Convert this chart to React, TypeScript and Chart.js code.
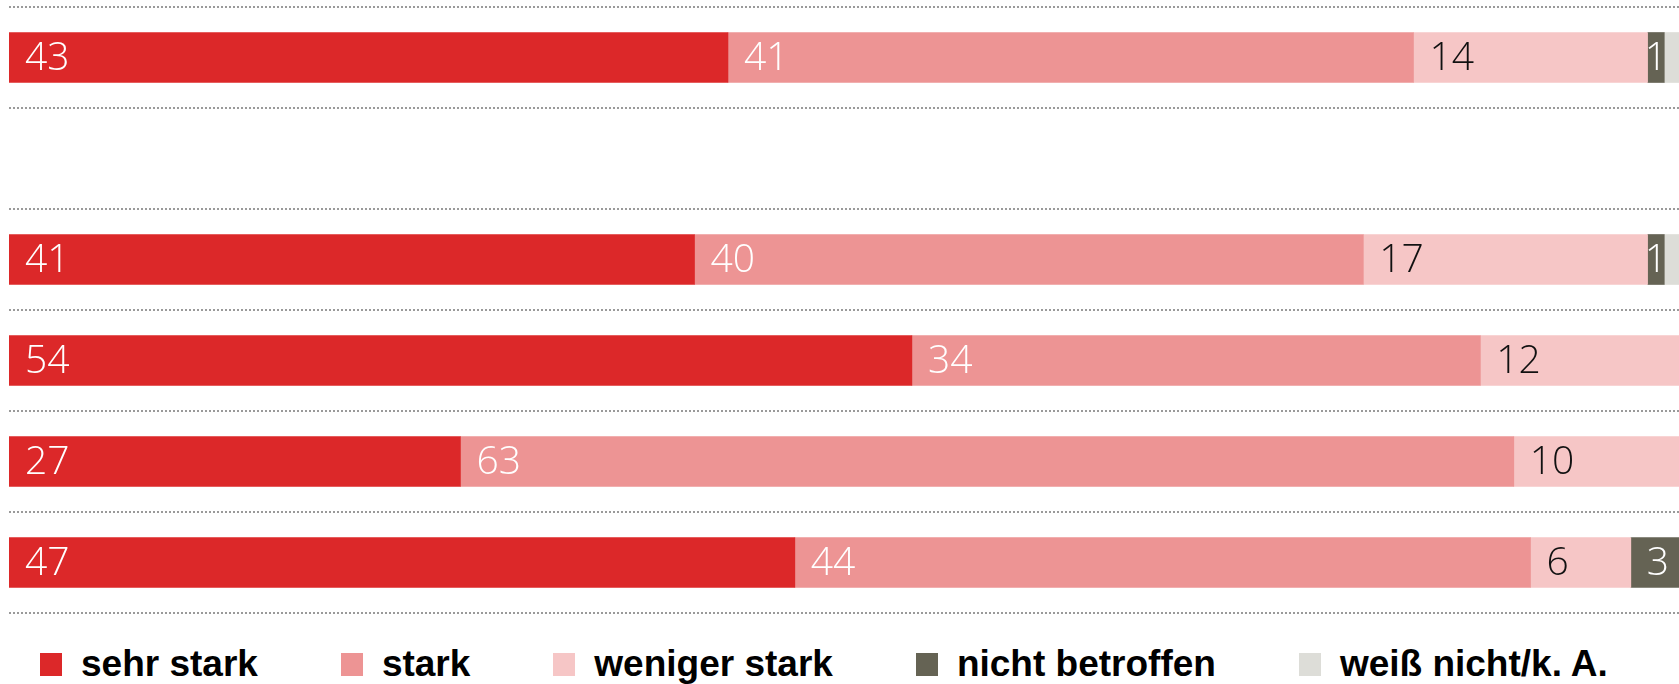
import React, { useEffect, useRef } from 'react';
import { Chart, registerables } from 'chart.js';

Chart.register(...registerables);

// ---- data ----
const categories = ['Gruppe 1', '', 'Gruppe 2', 'Gruppe 3', 'Gruppe 4', 'Gruppe 5'];
const seriesNames = ['sehr stark', 'stark', 'weniger stark', 'nicht betroffen', 'weiß nicht/k. A.'];
const sehrStark = [43, null, 41, 54, 27, 47];
const stark = [41, null, 40, 34, 63, 44];
const wenigerStark = [14, null, 17, 12, 10, 6];
const nichtBetroffen = [1, null, 1, 0, 0, 3];
const weissNicht = [1, null, 1, 0, 0, 0];

const seriesColors = ['#dc2829', '#ed9494', '#f6c6c6', '#656354', '#ddddd8'];
const labelColors: (string | null)[] = ['#ffffff', '#ffffff', '#111111', '#ffffff', null];

const segmentLabels = {
  id: 'segmentLabels',
  afterDatasetsDraw(chart: any) {
    const ctx = chart.ctx as CanvasRenderingContext2D;
    ctx.save();
    ctx.font = '300 39px "Open Sans", "Noto Sans", sans-serif';
    ctx.textBaseline = 'middle';
    chart.data.datasets.forEach((ds: any, di: number) => {
      const color = labelColors[di];
      if (!color) return;
      const meta = chart.getDatasetMeta(di);
      meta.data.forEach((el: any, i: number) => {
        const v = ds.data[i];
        if (v == null || v <= 0) return;
        const { x, base, y } = el.getProps(['x', 'base', 'y'], true);
        const left = Math.min(x, base);
        const w = Math.abs(x - base);
        ctx.fillStyle = color;
        if (w > 40) {
          ctx.textAlign = 'left';
          ctx.fillText(String(v), left + 16, y + 1);
        } else {
          ctx.textAlign = 'center';
          ctx.fillText(String(v), left + w / 2, y + 1);
        }
      });
    });
    ctx.restore();
  },
};

export default function App() {
  const canvasRef = useRef<HTMLCanvasElement | null>(null);

  useEffect(() => {
    if (!canvasRef.current) return;
    const seriesData = [sehrStark, stark, wenigerStark, nichtBetroffen, weissNicht];
    const chart = new Chart(canvasRef.current, {
      type: 'bar',
      data: {
        labels: categories,
        datasets: seriesNames.map((name, i) => ({
          label: name,
          data: seriesData[i],
          backgroundColor: seriesColors[i],
          borderWidth: 0,
          barThickness: 50,
        })),
      },
      options: {
        indexAxis: 'y',
        responsive: false,
        animation: false,
        devicePixelRatio: 1,
        layout: { padding: { left: 9, right: 9, top: 7, bottom: 17 } },
        plugins: {
          legend: { display: false },
          tooltip: { enabled: false },
        },
        scales: {
          x: {
            stacked: true,
            min: 0,
            max: 100,
            display: false,
          },
          y: {
            stacked: true,
            ticks: { display: false },
            grid: {
              display: true,
              offset: true,
              color: '#9a9a9a',
              lineWidth: 2,
              drawTicks: false,
            },
            border: { display: false, dash: [2, 2] },
          },
        },
      },
      plugins: [segmentLabels],
    });
    return () => chart.destroy();
  }, []);

  return (
    <div
      style={{
        position: 'fixed',
        left: 0,
        top: 0,
        width: 1679,
        height: 684,
        overflow: 'hidden',
        background: '#ffffff',
      }}
    >
      <canvas ref={canvasRef} width={1690} height={630} style={{ display: 'block', width: 1690, height: 630 }} />
      <div
        style={{
          position: 'absolute',
          left: 40,
          top: 645,
          height: 37,
          display: 'flex',
          alignItems: 'center',
          gap: 83,
          fontFamily: '"Liberation Sans", Arial, sans-serif',
          fontWeight: 700,
          fontSize: 37,
          lineHeight: '37px',
          color: '#000000',
          whiteSpace: 'nowrap',
        }}
      >
        {seriesNames.map((name, i) => (
          <div key={name} style={{ display: 'flex', alignItems: 'center' }}>
            <span
              style={{
                display: 'inline-block',
                width: 22,
                height: 23,
                background: seriesColors[i],
                marginRight: 19,
                position: 'relative',
                top: 1,
              }}
            />
            <span>{name}</span>
          </div>
        ))}
      </div>
    </div>
  );
}
